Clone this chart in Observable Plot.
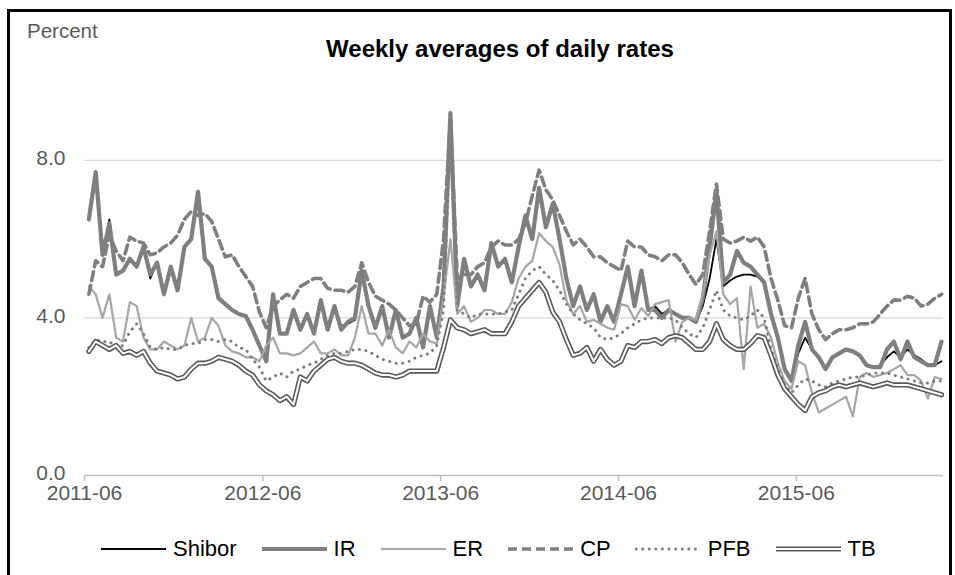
<!DOCTYPE html>
<html>
<head>
<meta charset="utf-8">
<script src="https://cdn.jsdelivr.net/npm/d3@7"></script>
<script src="https://cdn.jsdelivr.net/npm/@observablehq/plot@0.6"></script>
<style>
  body { margin: 0; background: #fff; font-family: "Liberation Sans", Arial, sans-serif; }
  #wrap { position: relative; width: 955px; height: 575px; overflow: hidden; background: #fff; }
  #chart { position: absolute; left: 0; top: 0; }
  #frame { position: absolute; left: 7px; top: 9px; width: 939px; height: 620px; border: 3px solid #000; pointer-events: none; }
  #percent { position: absolute; left: 27px; top: 19px; font-size: 20.5px; color: #595959; }
  #title { position: absolute; left: 250px; width: 500px; top: 35px; text-align: center; font-size: 24px; font-weight: bold; color: #000; }
  #legend { position: absolute; left: 100px; top: 536px; height: 26px; display: flex; align-items: center; gap: 24px; font-size: 22px; color: #000; }
  .item { display: flex; align-items: center; gap: 6px; }
  .item svg { display: block; }
</style>
</head>
<body>
<div id="wrap">
  <div id="chart"></div>
  <div id="percent">Percent</div>
  <div id="title">Weekly averages of daily rates</div>
  <div id="legend"></div>
  <div id="frame"></div>
</div>
<script>
// ---- data (weekly averages, read every second week) ----
const seriesNames = ["Shibor", "IR", "ER", "CP", "PFB", "TB"];
const tickLabels = ["2011-06", "2012-06", "2013-06", "2014-06", "2015-06"];
const yTickValues = [0, 4, 8];
const firstWeek = "2011-06-10";
const lastDay = "2016-03-29";

const shibor = [
  6.5, 7.7, 5.6, 6.5, 5.1, 5.2, 5.5, 5.3, 5.8, 5.0,
  5.4, 4.6, 5.3, 4.7, 5.8, 6.0, 7.2, 5.5, 5.3, 4.5,
  4.35, 4.2, 4.1, 4.05, 3.7, 3.3, 2.9, 4.6, 3.6, 3.6,
  4.2, 3.7, 4.1, 3.6, 4.45, 3.7, 4.3, 3.8, 3.85, 3.95,
  5.2, 4.3, 3.75, 4.3, 3.5, 4.2, 3.5, 3.6, 4.0, 3.25,
  4.3, 3.5, 4.8, 9.2, 4.3, 5.5, 4.8, 5.1, 4.7, 5.9,
  5.3, 5.5, 4.9, 5.8, 6.6, 6.0, 7.3, 6.3, 6.9, 6.0,
  5.0, 4.3, 4.8, 4.2, 4.6, 3.9, 4.3, 3.9, 4.6, 5.3,
  4.3, 5.2, 4.2, 4.3, 4.1, 4.2, 4.1, 4.0, 4.0, 3.9,
  4.3, 5.0, 6.0, 4.8, 4.95, 5.05, 5.1, 5.1, 5.05, 4.9,
  4.1, 3.5, 2.7, 2.4, 3.1, 3.5, 3.2, 3.0, 2.7, 3.0,
  3.1, 3.2, 3.15, 3.05, 2.8, 2.75, 2.8, 3.0, 3.15, 3.0,
  3.2, 3.05, 2.95, 2.8, 2.8, 2.9
];
const ir = [
  6.5, 7.7, 5.6, 6.4, 5.1, 5.2, 5.5, 5.3, 5.8, 5.1,
  5.4, 4.6, 5.3, 4.7, 5.8, 6.0, 7.2, 5.5, 5.3, 4.5,
  4.35, 4.2, 4.1, 4.05, 3.7, 3.3, 2.9, 4.6, 3.6, 3.6,
  4.2, 3.7, 4.1, 3.6, 4.45, 3.7, 4.3, 3.7, 3.9, 4.0,
  5.2, 4.3, 3.75, 4.3, 3.5, 4.2, 3.5, 3.6, 4.0, 3.25,
  4.3, 3.5, 4.8, 9.2, 4.3, 5.5, 4.8, 5.1, 4.7, 5.9,
  5.3, 5.5, 4.9, 5.8, 6.6, 6.0, 7.3, 6.3, 6.9, 6.0,
  5.0, 4.3, 4.8, 4.2, 4.6, 3.9, 4.3, 3.9, 4.6, 5.3,
  4.3, 5.2, 4.2, 4.2, 4.0, 4.2, 4.1, 4.0, 4.0, 3.9,
  4.5, 5.8, 7.2, 4.9, 5.1, 5.7, 5.4, 5.3, 5.1, 4.9,
  4.1, 3.5, 2.7, 2.4, 3.3, 3.9, 3.2, 3.0, 2.7, 3.0,
  3.1, 3.2, 3.15, 3.05, 2.8, 2.75, 2.75, 3.2, 3.4, 2.95,
  3.4, 3.0, 2.9, 2.8, 2.8, 3.4
];
const er = [
  4.8, 4.6, 4.0, 4.6, 3.5, 3.4, 4.4, 4.3, 3.5, 3.2,
  3.2, 3.4, 3.3, 3.2, 3.3, 4.0, 3.4, 3.5, 4.0, 3.8,
  3.3, 3.15, 3.1, 3.0, 3.0, 2.9, 3.3, 3.5, 3.1, 3.1,
  3.05, 3.1, 3.25, 3.4, 3.1, 3.1, 3.2, 3.05, 3.05, 3.5,
  4.3, 3.6, 3.6, 3.3, 3.7, 3.25, 3.1, 3.4, 3.25, 3.6,
  3.4, 3.35, 4.5, 6.0, 4.1, 4.3, 3.9, 4.0, 4.2, 4.2,
  4.1, 4.1, 4.4, 5.0, 5.3, 5.45, 6.15, 5.95, 5.8, 5.35,
  4.45, 4.1, 4.3, 3.9, 3.95, 3.85, 3.75, 3.7, 4.35, 4.3,
  3.95, 4.25, 4.05, 4.35, 4.4, 4.45, 3.4, 3.9, 4.0, 3.95,
  4.6, 5.6, 6.2, 4.6, 4.35, 4.5, 2.7, 4.8, 3.75, 3.85,
  3.5, 2.85, 2.4, 2.2, 2.9, 2.8, 2.1, 1.6, 1.7, 1.8,
  1.9, 2.0, 1.5, 2.5, 2.6, 2.5, 2.55, 2.6, 2.7, 2.8,
  2.55, 2.55, 2.4, 1.95, 2.5, 2.45
];
const cp = [
  4.6, 5.45, 5.3, 6.1, 5.7, 5.45, 6.05, 5.95, 5.9, 5.6,
  5.65, 5.8, 5.9, 6.1, 6.5, 6.7, 6.6, 6.65, 6.45, 6.0,
  5.55, 5.6, 5.3, 5.05, 4.8, 4.15, 3.75, 4.3, 4.45, 4.6,
  4.5, 4.8, 4.9, 5.0, 5.0, 4.75, 4.7, 4.7, 4.65, 4.8,
  5.4, 4.9, 4.55, 4.45, 4.35, 4.2, 4.0, 3.8, 3.85, 4.55,
  4.4, 4.6, 6.0, 9.1, 5.0, 5.1, 5.1, 5.3, 5.4, 5.8,
  5.95, 5.85, 5.85, 6.0, 6.4, 7.1, 7.75, 7.25, 7.0, 6.6,
  6.2, 5.85, 6.0, 5.8, 5.55, 5.55, 5.4, 5.3, 5.2, 5.95,
  5.8, 5.8, 5.6, 5.55, 5.45, 5.6, 5.6, 5.4, 5.1, 4.85,
  5.1, 6.2, 7.4, 6.0, 5.9, 5.95, 6.05, 5.95, 6.05, 5.8,
  5.0, 4.45, 3.8, 3.75, 4.5, 5.0, 4.1, 3.7, 3.45, 3.6,
  3.7, 3.7, 3.75, 3.85, 3.85, 3.9, 4.1, 4.3, 4.45, 4.45,
  4.55, 4.5, 4.3, 4.35, 4.5, 4.6
];
const pfb = [
  3.25, 3.45, 3.4, 3.4, 3.25, 3.3, 3.65, 3.85, 3.6, 3.25,
  3.2, 3.25, 3.2, 3.2, 3.3, 3.35, 3.35, 3.45, 3.45, 3.4,
  3.45, 3.4, 3.25, 3.2, 2.95, 2.75, 2.4, 2.5, 2.6, 2.5,
  2.65, 2.7, 2.8, 2.85, 2.95, 3.05, 3.1, 3.1, 3.15, 3.2,
  3.2, 3.15, 3.05, 2.95, 2.9, 2.85, 2.85, 2.9, 3.0, 3.05,
  3.1, 3.3, 4.2, 8.6, 4.2, 4.1, 4.0, 4.1, 4.1, 4.1,
  4.1, 4.15, 4.2, 4.6, 5.0, 5.2, 5.3, 5.1, 4.95, 4.7,
  4.35, 4.1, 3.95, 3.85, 3.75, 3.5, 3.45, 3.5, 3.6, 3.75,
  3.85, 3.95, 4.0, 4.0, 4.0, 4.0, 3.95, 3.75, 3.6, 3.5,
  3.75, 4.2, 4.7, 4.2, 4.05, 4.0, 3.95, 4.05, 4.2, 4.0,
  3.2, 2.7, 2.3, 2.1, 2.3, 2.45, 2.4, 2.3, 2.25, 2.35,
  2.4, 2.45, 2.5, 2.5, 2.55, 2.6, 2.6, 2.6, 2.55, 2.5,
  2.45, 2.4, 2.35, 2.35, 2.4, 2.4
];
const tb = [
  3.15, 3.4, 3.3, 3.2, 3.3, 3.1, 3.15, 3.05, 3.15, 2.85,
  2.65, 2.6, 2.55, 2.45, 2.5, 2.7, 2.85, 2.85, 2.9, 3.0,
  2.95, 2.9, 2.8, 2.65, 2.55, 2.3, 2.15, 2.05, 1.9, 2.0,
  1.8, 2.5, 2.4, 2.65, 2.8, 2.95, 3.0, 2.9, 2.85, 2.85,
  2.8, 2.7, 2.6, 2.55, 2.55, 2.5, 2.55, 2.65, 2.65, 2.65,
  2.65, 2.65, 3.25, 3.95, 3.75, 3.7, 3.6, 3.65, 3.7, 3.6,
  3.6, 3.6, 3.9, 4.3, 4.5, 4.7, 4.9, 4.65, 4.15, 3.9,
  3.45, 3.05, 3.1, 3.25, 2.9, 3.2, 2.95, 2.8, 2.9, 3.3,
  3.25, 3.4, 3.4, 3.45, 3.35, 3.5, 3.55, 3.5, 3.35, 3.2,
  3.2, 3.4, 3.85, 3.45, 3.3, 3.2, 3.2, 3.35, 3.55, 3.5,
  3.05, 2.55, 2.2, 2.0, 1.8, 1.65, 2.0, 2.1, 2.15, 2.25,
  2.3, 2.25, 2.3, 2.35, 2.3, 2.25, 2.3, 2.35, 2.3, 2.3,
  2.3, 2.25, 2.2, 2.15, 2.1, 2.05
];

// ---- build tables ----
const parseDay = d3.utcParse("%Y-%m-%d");
const parseMonth = d3.utcParse("%Y-%m");
const start = parseDay(firstWeek);
const dates = ir.map((_, i) => d3.utcDay.offset(start, 14 * i));
const toRows = vals => vals.map((v, i) => ({date: dates[i], value: v}));
const xTicks = tickLabels.map(parseMonth);
const xDomain = [xTicks[0], parseDay(lastDay)];

const styles = {
  Shibor: [{stroke: "#000000", strokeWidth: 1.8}],
  IR: [{stroke: "#7f7f7f", strokeWidth: 4.2}],
  ER: [{stroke: "#a6a6a6", strokeWidth: 2.2}],
  CP: [{stroke: "#7f7f7f", strokeWidth: 3.6, strokeDasharray: "9,5"}],
  PFB: [{stroke: "#7f7f7f", strokeWidth: 3, strokeDasharray: "0.1,6.5", strokeLinecap: "round"}],
  TB: [{stroke: "#595959", strokeWidth: 5.2}, {stroke: "#ffffff", strokeWidth: 2}]
};
const seriesValues = {Shibor: shibor, IR: ir, ER: er, CP: cp, PFB: pfb, TB: tb};

const lineMarks = [];
for (const name of seriesNames) {
  const rows = toRows(seriesValues[name]);
  for (const s of styles[name]) {
    lineMarks.push(Plot.line(rows, {x: "date", y: "value", strokeLinejoin: "round", ...s}));
  }
}

const chart = Plot.plot({
  width: 955,
  height: 520,
  marginLeft: 84,
  marginRight: 12,
  marginTop: 81,
  marginBottom: 45,
  style: {fontFamily: "'Liberation Sans', Arial, sans-serif", fontSize: "21px", color: "#595959", background: "transparent", overflow: "visible"},
  x: {type: "utc", domain: xDomain},
  y: {domain: [0, 10]},
  marks: [
    Plot.gridY(yTickValues.filter(d => d > 0), {stroke: "#d9d9d9", strokeOpacity: 1, strokeWidth: 1.3}),
    Plot.ruleY([0], {stroke: "#bfbfbf", strokeWidth: 1.5}),
    Plot.axisX(xTicks, {tickFormat: d3.utcFormat("%Y-%m"), tickSize: 6, tickPadding: 4, stroke: "#bfbfbf", strokeWidth: 1.5, label: null}),
    Plot.axisY(yTickValues, {tickFormat: d3.format(".1f"), tickSize: 0, tickPadding: 19, dy: -2, label: null}),
    ...lineMarks
  ]
});
document.getElementById("chart").appendChild(chart);

// ---- legend ----
const legend = document.getElementById("legend");
for (const name of seriesNames) {
  const item = document.createElement("div");
  item.className = "item";
  const svg = d3.create("svg").attr("width", 67).attr("height", 12);
  for (const s of styles[name]) {
    svg.append("line").attr("x1", 1).attr("x2", 66).attr("y1", 6).attr("y2", 6)
      .attr("stroke", s.stroke).attr("stroke-width", s.strokeWidth)
      .attr("stroke-dasharray", s.strokeDasharray || null)
      .attr("stroke-linecap", s.strokeLinecap || "butt");
  }
  item.appendChild(svg.node());
  const label = document.createElement("span");
  label.textContent = name;
  item.appendChild(label);
  legend.appendChild(item);
}
</script>
</body>
</html>
